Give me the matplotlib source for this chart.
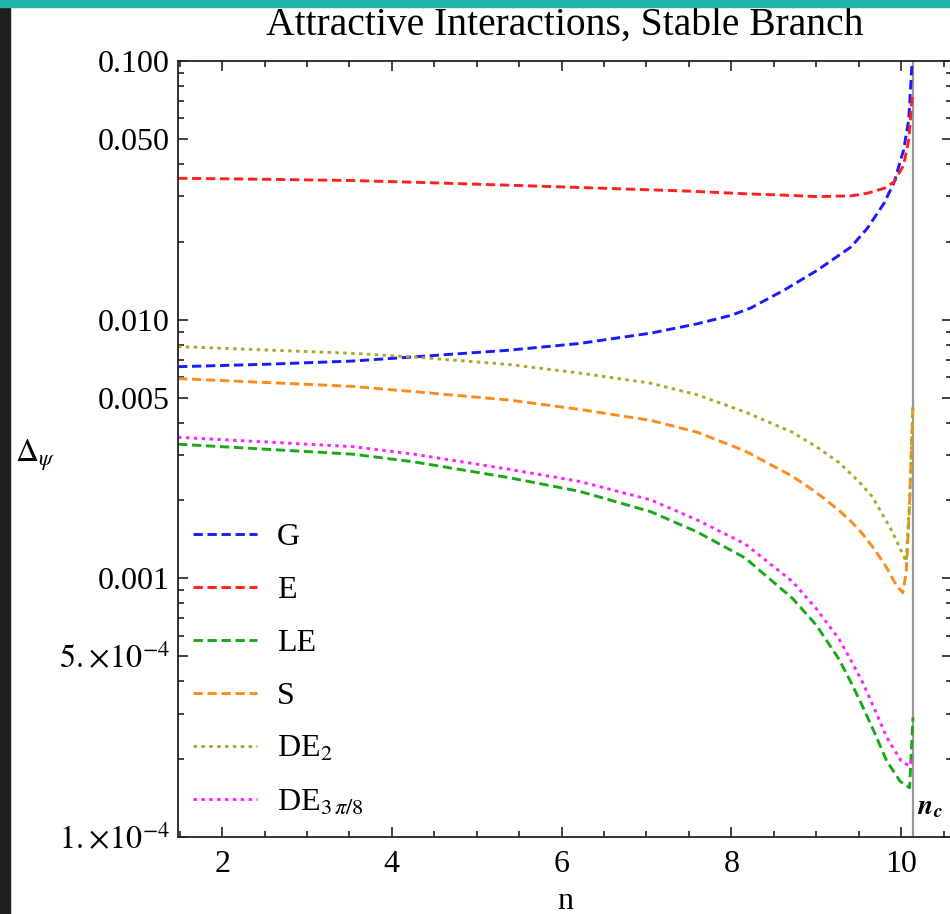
import matplotlib
matplotlib.use("Agg")
import matplotlib.pyplot as plt
from matplotlib.ticker import FixedLocator, NullFormatter
from matplotlib.patches import Rectangle

plt.rcParams['font.family'] = ['Liberation Serif', 'DejaVu Serif']
plt.rcParams['mathtext.fontset'] = 'stix'

# ---------------- data ----------------
n_c = 10.14

G_n = [1.48, 2.5, 3.54, 4.26, 5.38, 6.21, 7.05, 7.6, 8.0, 8.23, 8.62, 9.01, 9.41, 9.6, 9.8, 9.92, 10.03, 10.09, 10.13, 10.14]
G_v = [0.00658, 0.00672, 0.00692, 0.00718, 0.00762, 0.00809, 0.00887, 0.00964, 0.0104, 0.0111,
       0.0130, 0.0155, 0.0191, 0.0225, 0.0282, 0.0341, 0.0453, 0.0591, 0.0994, 0.12]

E_n = [1.48, 2.5, 3.54, 4.5, 5.5, 6.5, 7.5, 8.23, 8.62, 9.01, 9.41, 9.6, 9.8, 9.92, 10.03, 10.09, 10.13]
E_v = [0.0352, 0.0349, 0.0345, 0.0338, 0.0330, 0.0322, 0.0314, 0.0306, 0.0303, 0.0299,
       0.0301, 0.0308, 0.0322, 0.0341, 0.0396, 0.0495, 0.0727]

LE_n = [1.48, 3.54, 4.26, 5.38, 6.21, 7.05, 7.6, 8.16, 8.72, 9.0, 9.27, 9.41, 9.55, 9.69, 9.83, 9.99, 10.10, 10.14]
LE_v = [0.00330, 0.00302, 0.00282, 0.00245, 0.00217, 0.00181, 0.00151, 0.00120, 0.000837, 0.00066,
        0.000486, 0.000396, 0.000318, 0.000252, 0.000197, 0.000164, 0.000155, 0.00029]

S_n = [1.48, 3.54, 4.26, 5.38, 6.21, 7.05, 7.6, 8.16, 8.72, 9.0, 9.27, 9.41, 9.55, 9.69, 9.83, 9.94, 10.02, 10.06, 10.10, 10.14]
S_v = [0.00592, 0.00552, 0.00527, 0.00489, 0.00450, 0.00408, 0.00367, 0.00311, 0.00248, 0.00215,
       0.00183, 0.00166, 0.00148, 0.00129, 0.00110, 0.000944, 0.00088, 0.00105, 0.0019, 0.0047]

DE2_n = [1.48, 3.54, 4.26, 5.38, 6.21, 7.05, 7.6, 8.16, 8.72, 9.0, 9.27, 9.5, 9.66, 9.89, 10.0, 10.06, 10.10, 10.14]
DE2_v = [0.00787, 0.00741, 0.00717, 0.00671, 0.00622, 0.00568, 0.00512, 0.00440, 0.00367, 0.00323,
         0.00280, 0.00237, 0.00207, 0.00153, 0.00128, 0.00116, 0.0020, 0.0046]

DE3_n = [1.48, 3.54, 4.26, 5.38, 6.21, 7.05, 7.6, 8.16, 8.72, 9.0, 9.27, 9.41, 9.55, 9.69, 9.83, 10.0, 10.10, 10.14]
DE3_v = [0.00351, 0.00323, 0.00302, 0.00264, 0.00237, 0.00201, 0.00168, 0.00136, 0.000972, 0.000764,
         0.000582, 0.000482, 0.000394, 0.000311, 0.000243, 0.000197, 0.000188, 0.000205]

labels = ['G', 'E', 'LE', 'S', r'DE$_2$', r'DE$_{3\,\pi/8}$']
colors = ['#1a1aff', '#ff2020', '#1aa81a', '#ff8c1a', '#aaaa2a', '#ff22ff']

xticks = [2, 4, 6, 8, 10]
xtick_labels = ['2', '4', '6', '8', '10']
yticks = [1e-4, 5e-4, 1e-3, 5e-3, 1e-2, 5e-2, 1e-1]
ytick_labels = [r'$1.\!\times\!10^{-4}$', r'$5.\!\times\!10^{-4}$', '0.001', '0.005', '0.010', '0.050', '0.100']

# ---------------- figure ----------------
fig = plt.figure(figsize=(9.5, 9.14), dpi=100)
fig.patch.set_facecolor('white')
fig.patches.append(Rectangle((0, 0), 10 / 950, 1, transform=fig.transFigure, color='#1e1e1e', zorder=0))
fig.patches.append(Rectangle((0, 1 - 7 / 914), 1, 7 / 914, transform=fig.transFigure, color='#22b5aa', zorder=0))

ax = fig.add_axes([178 / 950, 1 - 837 / 914, 774 / 950, 776 / 914])
ax.set_yscale('log')
ax.set_xlim(1.48, 10.6)
ax.set_ylim(1e-4, 0.1)

lw = 2.1
dash = (3.2, 1.6)
dot = (1.2, 1.5)
series = [(G_n, G_v, dash), (E_n, E_v, dash), (LE_n, LE_v, dash), (S_n, S_v, dash),
          (DE2_n, DE2_v, dot), (DE3_n, DE3_v, dot)]
handles = []
for (xs, ys, d), lab, c in zip(series, labels, colors):
    h, = ax.plot(xs, ys, color=c, lw=lw, dashes=d, label=lab, clip_on=True)
    handles.append(h)

ax.axvline(n_c, color='#999999', lw=1.6, zorder=1)
ax.text(n_c + 0.05, 1.3e-4, r'$\mathbfit{n_c}$', fontsize=20, ha='left', va='center')

# ticks
ax.xaxis.set_major_locator(FixedLocator(xticks))
ax.set_xticklabels(xtick_labels)
ax.xaxis.set_minor_locator(FixedLocator([v / 2 for v in range(2, 22)]))
ax.xaxis.set_minor_formatter(NullFormatter())
ax.yaxis.set_major_locator(FixedLocator(yticks))
ax.set_yticklabels(ytick_labels)
minor_y = []
for dec in [1e-4, 1e-3, 1e-2]:
    for m in [2, 3, 4, 6, 7, 8, 9]:
        minor_y.append(m * dec)
ax.yaxis.set_minor_locator(FixedLocator(minor_y))
ax.yaxis.set_minor_formatter(NullFormatter())

ax.tick_params(which='both', direction='in', top=True, right=True, width=1.2, colors='#222222',
               labelcolor='black', labelsize=23)
ax.tick_params(which='major', length=7, pad=6)
ax.tick_params(axis='x', which='major', pad=9)
ax.tick_params(which='minor', length=4)
for s in ax.spines.values():
    s.set_linewidth(1.3)
    s.set_color('#222222')

ax.set_title('Attractive Interactions, Stable Branch', fontsize=28.5, pad=19)
ax.set_xlabel('n', fontsize=23, labelpad=6)
ax.set_ylabel(r'$\Delta_{\psi}$', fontsize=23, rotation=0, va='center', ha='left')
ax.yaxis.set_label_coords(-0.21, 0.492)

leg = ax.legend(handles=handles, loc='upper left', bbox_to_anchor=(0.0194, 0.405),
                frameon=False, fontsize=23, handlelength=2.0, handletextpad=0.62,
                labelspacing=0.74, borderpad=0, borderaxespad=0)

fig.savefig('out.png', dpi=100, facecolor=fig.get_facecolor())
